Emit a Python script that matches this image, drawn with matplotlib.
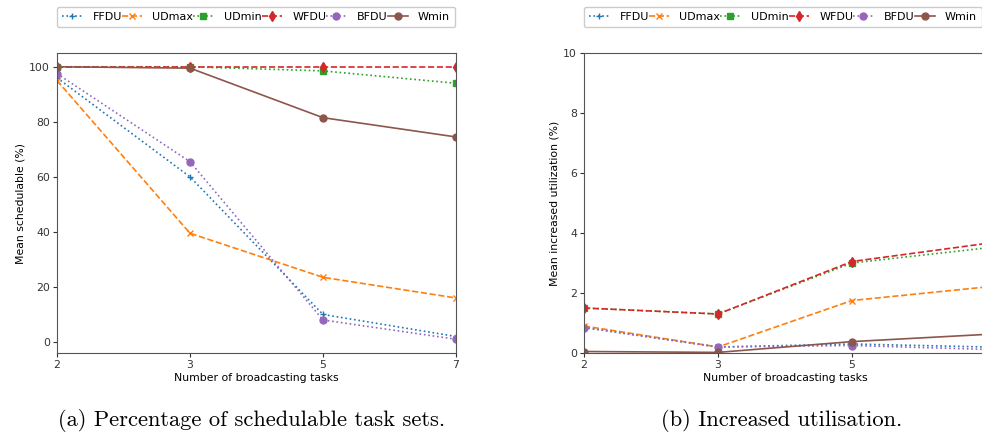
import matplotlib
matplotlib.use("Agg")
import matplotlib.pyplot as plt

# x positions are categorical: number of broadcasting tasks
tasks = ["2", "3", "5", "7"]
labels = ["FFDU", "UDmax", "UDmin", "WFDU", "BFDU", "Wmin"]

# (a) mean schedulable (%)
sched_ffdu = [96, 60, 10, 2]
sched_udmax = [95, 39.5, 23.5, 16]
sched_udmin = [100, 100, 98.5, 94]
sched_wfdu = [100, 100, 100, 100]
sched_bfdu = [97.5, 65.5, 8, 1]
sched_wmin = [100, 99.5, 81.5, 74.5]

# (b) mean increased utilisation (%)
util_ffdu = [0.85, 0.2, 0.3, 0.2]
util_udmax = [0.9, 0.2, 1.75, 2.2]
util_udmin = [1.5, 1.3, 3.0, 3.5]
util_wfdu = [1.5, 1.3, 3.05, 3.65]
util_bfdu = [0.85, 0.2, 0.25, 0.12]
util_wmin = [0.05, 0.02, 0.38, 0.62]

styles = [
    dict(color="C0", ls=":", marker="+"),
    dict(color="C1", ls="--", marker="x"),
    dict(color="C2", ls=":", marker="s"),
    dict(color="C3", ls="--", marker="d"),
    dict(color="C4", ls=":", marker="o"),
    dict(color="C5", ls="-", marker="o"),
]

plt.rcParams["font.family"] = "DejaVu Sans"
plt.rcParams["font.size"] = 7.8

W, H = 982, 438
fig = plt.figure(figsize=(W / 100, H / 100), dpi=100)


def make_axes(left, width, series, ylabel, ylim, yticks):
    ax = fig.add_axes([left / W, 1 - 353 / H, width / W, 300 / H])
    x = range(len(tasks))
    for vals, lab, st in zip(series, labels, styles):
        ax.plot(x, vals, label=lab, lw=1.2, ms=5, **st)
    ax.set_xlim(0, 3)
    ax.set_xticks(list(x))
    ax.set_xticklabels(tasks)
    if ylim:
        ax.set_ylim(*ylim)
    ax.set_yticks(yticks)
    ax.set_xlabel("Number of broadcasting tasks", labelpad=2)
    ax.set_ylabel(ylabel, labelpad=3)
    for s in ax.spines.values():
        s.set_color("#555555")
    ax.tick_params(colors="#333333", length=3, pad=2)
    ax.legend(ncol=6, loc="lower left", bbox_to_anchor=(0, 326 / 300),
              borderaxespad=0, handlelength=1.8, handletextpad=0.95,
              columnspacing=0.0, borderpad=0.45, fontsize=8,
              framealpha=1, edgecolor="#cccccc")
    return ax


ax1 = make_axes(57, 399, [sched_ffdu, sched_udmax, sched_udmin, sched_wfdu, sched_bfdu, sched_wmin],
                "Mean schedulable (%)", (-4, 105), range(0, 101, 20))
ax2 = make_axes(584, 402, [util_ffdu, util_udmax, util_udmin, util_wfdu, util_bfdu, util_wmin],
                "Mean increased utilization (%)", (0, 10), range(0, 11, 2))

fig.text(252 / W, 1 - 420 / H, "(a) Percentage of schedulable task sets.",
         family="cmr10", fontsize=16.2, ha="center", va="center")
fig.text(782 / W, 1 - 420 / H, "(b) Increased utilisation.",
         family="cmr10", fontsize=16.2, ha="center", va="center")

fig.savefig("out.png", dpi=100)
